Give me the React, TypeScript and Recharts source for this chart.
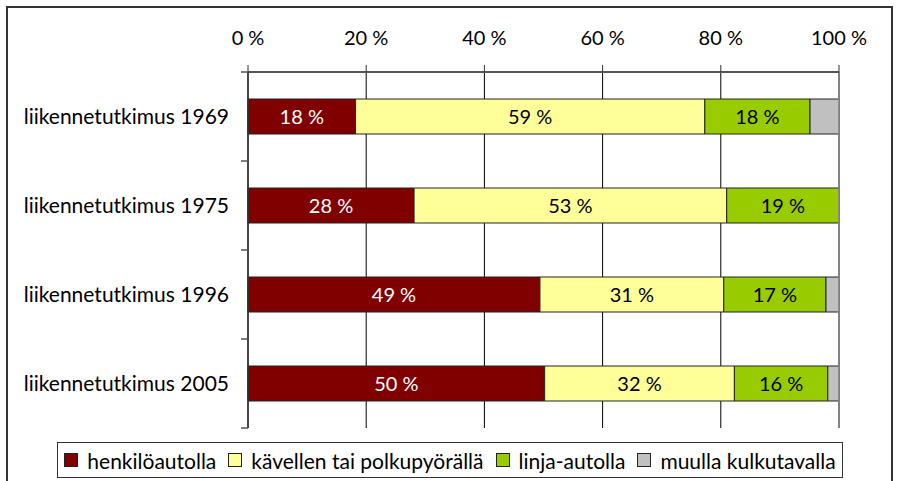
import { Bar, BarChart, CartesianGrid, LabelList, ReferenceLine, XAxis, YAxis } from "recharts";

const categories = ["liikennetutkimus 1969", "liikennetutkimus 1975", "liikennetutkimus 1996", "liikennetutkimus 2005"];
const henkiloauto = [18.2, 28.1, 49.4, 50.2];
const kavellen = [59.1, 52.9, 31.1, 32.1];
const linjaauto = [17.8, 19.0, 17.3, 15.8];
const muu = [4.9, 0, 2.2, 1.9];
const xTicks = [0, 20, 40, 60, 80, 100];

const SERIES = [
  { key: "henkilo", name: "henkilöautolla", color: "#800000", label: "#ffffff" },
  { key: "kavely", name: "kävellen tai polkupyörällä", color: "#ffff99", label: "#000000" },
  { key: "linja", name: "linja-autolla", color: "#99cc00", label: "#000000" },
  { key: "muu", name: "muulla kulkutavalla", color: "#c0c0c0", label: null },
];

const data = categories.map((c, i) => ({
  name: c,
  henkilo: henkiloauto[i],
  kavely: kavellen[i],
  linja: linjaauto[i],
  muu: muu[i],
}));

const FONT = "Lato, 'Liberation Sans', sans-serif";
const FS = 20;
const FS_BIG = 21;

function CategoryTick(props: any) {
  const { x, y, payload, index } = props;
  const half = payload?.offset ?? 44.5;
  return (
    <g>
      <text x={x - 19} y={y} dy="0.35em" textAnchor="end" fontSize={FS_BIG} fontFamily={FONT} fill="#000">
        {payload.value}
      </text>
      <line x1={x - 7} x2={x} y1={y + half} y2={y + half} stroke="#555" strokeWidth={1.5} />
      {index === 0 && <line x1={x - 7} x2={x} y1={y - half} y2={y - half} stroke="#555" strokeWidth={1.5} />}
    </g>
  );
}

function LegendBox() {
  return (
    <div
      style={{
        position: "absolute",
        left: 57,
        top: 442,
        width: 786,
        height: 36,
        boxSizing: "border-box",
        border: "1px solid #333",
        display: "flex",
        alignItems: "center",
        justifyContent: "center",
        gap: 12,
        fontFamily: FONT,
        fontSize: FS_BIG,
        color: "#000",
        background: "#fff",
      }}
    >
      {SERIES.map((s) => (
        <span key={s.key} style={{ display: "flex", alignItems: "center", gap: 9 }}>
          <span
            style={{
              width: 12,
              height: 12,
              background: s.color,
              border: "1px solid #222",
              display: "inline-block",
            }}
          />
          {s.name}
        </span>
      ))}
    </div>
  );
}

export default function App() {
  return (
    <div style={{ position: "absolute", left: 0, top: 0, width: 899, height: 481, overflow: "hidden", background: "#fff" }}>
      <div
        style={{
          position: "absolute",
          left: 6,
          top: 6,
          width: 887,
          height: 500,
          boxSizing: "border-box",
          border: "2px solid #333",
        }}
      />
      <BarChart
        width={899}
        height={481}
        data={data}
        layout="vertical"
        margin={{ top: 42, right: 60, bottom: 53, left: 8 }}
        barSize={35}
        style={{ position: "absolute", left: 0, top: 0 }}
      >
        <CartesianGrid horizontal={false} stroke="#000" strokeWidth={1} />
        <ReferenceLine x={100} stroke="#999" strokeWidth={1.5} />
        <XAxis
          type="number"
          orientation="top"
          domain={[0, 100]}
          ticks={xTicks}
          tickFormatter={(v) => `${v} %`}
          tick={{ fontSize: FS, fontFamily: FONT, fill: "#000" }}
          tickSize={7}
          tickMargin={20}
          axisLine={{ stroke: "#555", strokeWidth: 2 }}
          tickLine={{ stroke: "#333" }}
          interval={0}
        />
        <YAxis
          type="category"
          dataKey="name"
          width={240}
          tick={<CategoryTick />}
          tickLine={false}
          tickSize={0}
          tickMargin={0}
          axisLine={{ stroke: "#333", strokeWidth: 1.5 }}
          interval={0}
        />
        {SERIES.map((s) => (
          <Bar
            key={s.key}
            dataKey={s.key}
            name={s.name}
            stackId="a"
            fill={s.color}
            stroke="#222"
            strokeWidth={1}
            isAnimationActive={false}
          >
            {s.label && (
              <LabelList
                dataKey={s.key}
                position="center"
                formatter={(v: any) => (v > 0 ? `${Math.round(v)} %` : "")}
                fill={s.label}
                fontSize={FS}
                fontFamily={FONT}
              />
            )}
          </Bar>
        ))}
      </BarChart>
      <LegendBox />
    </div>
  );
}
